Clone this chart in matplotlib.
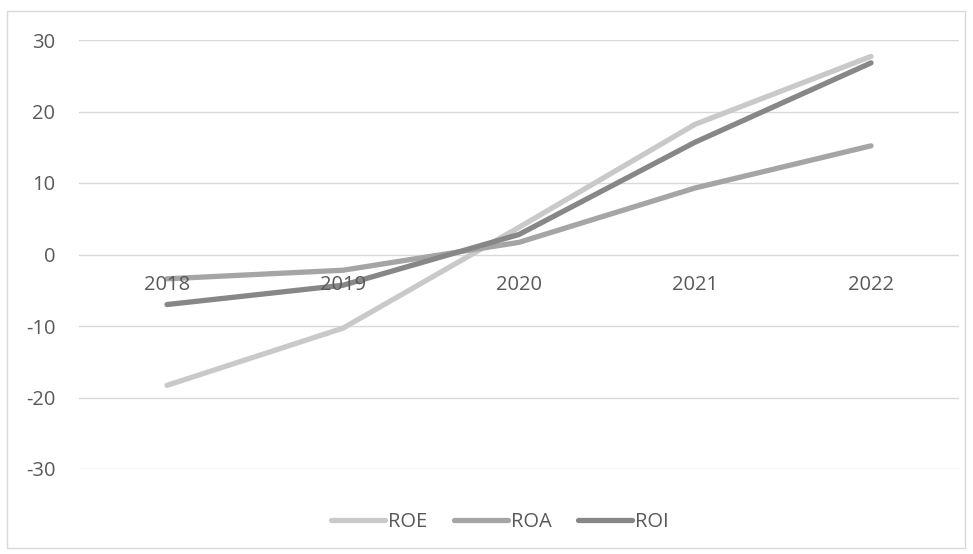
import matplotlib.pyplot as plt
from matplotlib.patches import Rectangle

years = ["2018", "2019", "2020", "2021", "2022"]
roe = [-18.3, -10.3, 3.8, 18.2, 27.7]
roa = [-3.4, -2.2, 1.7, 9.3, 15.2]
roi = [-7.0, -4.3, 2.8, 15.7, 26.8]

plt.rcParams["font.family"] = ["Open Sans", "DejaVu Sans"]
plt.rcParams["axes.unicode_minus"] = False

fig = plt.figure(figsize=(9.73, 5.54), dpi=100)
ax = fig.add_axes([79 / 973, 1 - 469 / 554, 880 / 973, 429 / 554])

x = range(len(years))
ax.plot(x, roe, color="#c9c9c9", lw=3.8, solid_capstyle="round", label="ROE")
ax.plot(x, roa, color="#a5a5a5", lw=3.8, solid_capstyle="round", label="ROA")
ax.plot(x, roi, color="#878787", lw=3.8, solid_capstyle="round", label="ROI")

ax.set_xlim(-0.5, len(years) - 0.5)
ax.set_ylim(-30, 30)
ax.set_yticks(range(-30, 31, 10))
ax.grid(axis="y", color="#d9d9d9", lw=1)
ax.set_axisbelow(True)
ax.tick_params(axis="y", length=0, pad=17, labelsize=14.5, labelcolor="#595959")
ax.set_xticks([])
for s in ax.spines.values():
    s.set_visible(False)

# category labels sit just under the zero line
for i, yr in enumerate(years):
    ax.annotate(yr, (i, 0), xytext=(0, -22), textcoords="offset points",
                ha="center", va="center", fontsize=14.5, color="#595959")

fig.legend(loc="center", bbox_to_anchor=(500 / 973, 1 - 522 / 554), ncol=3, frameon=False,
           fontsize=14.5, labelcolor="#595959", handlelength=2.7, handletextpad=0.15,
           columnspacing=1.3)

fig.patches.append(Rectangle((7 / 973, 1 - 548 / 554), 958 / 973, 537 / 554,
                             transform=fig.transFigure, fill=False,
                             edgecolor="#d9d9d9", lw=1))

fig.savefig("out.png", dpi=100)
